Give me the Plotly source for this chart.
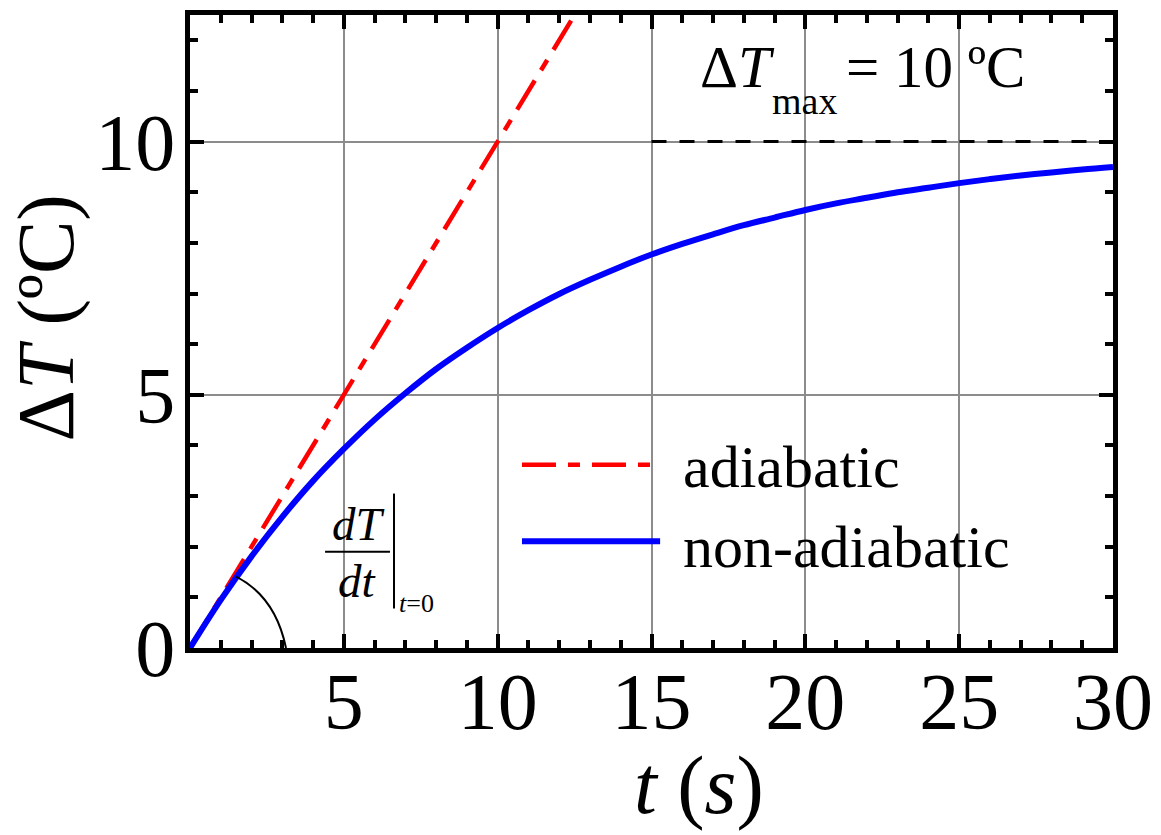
import plotly.graph_objects as go

# ---- data ----
t_adiabatic = [0, 12.5]
dT_adiabatic = [0, 12.5]

t_nonadiabatic = [0, 1, 2, 3, 4, 5, 6, 7, 8, 9, 10, 11, 12, 13, 14, 15, 16, 17, 18, 19, 20,
                  21, 22, 23, 24, 25, 26, 27, 28, 29, 30]
dT_nonadiabatic = [0, 0.95, 1.81, 2.59, 3.30, 3.93, 4.51, 5.03, 5.51, 5.93, 6.32, 6.67, 6.99,
                   7.27, 7.53, 7.77, 7.98, 8.17, 8.35, 8.50, 8.65, 8.78, 8.89, 9.00, 9.09,
                   9.18, 9.26, 9.33, 9.39, 9.45, 9.50]

dT_max = 10
dT_max_t = [15, 30]

x_ticks = [5, 10, 15, 20, 25, 30]
y_ticks = [0, 5, 10]

FONT = "Liberation Serif, Times New Roman, serif"
RED_DASH = "34px,12px,12px,12px"

fig = go.Figure()

fig.add_trace(go.Scatter(x=t_adiabatic, y=dT_adiabatic, mode="lines", name="adiabatic",
                         line=dict(color="#ff0000", width=4.5, dash=RED_DASH), showlegend=False))
fig.add_trace(go.Scatter(x=t_nonadiabatic, y=dT_nonadiabatic, mode="lines", name="non-adiabatic",
                         line=dict(color="#0000ff", width=6, shape="spline"), showlegend=False))
# dashed ΔTmax reference line
fig.add_trace(go.Scatter(x=dT_max_t, y=[dT_max, dT_max], mode="lines", showlegend=False,
                         line=dict(color="black", width=3, dash="15px,13px")))

axis_common = dict(
    showline=True, linecolor="black", linewidth=4.5, mirror="allticks",
    ticks="inside", ticklen=14, tickwidth=3.5, tickcolor="black",
    showgrid=True, gridcolor="#8c8c8c", gridwidth=2, zeroline=False,
    tickfont=dict(family=FONT, size=80, color="black"),
    minor=dict(ticks="inside", ticklen=8, tickwidth=3.5, tickcolor="black", dtick=1, showgrid=False),
)

fig.update_xaxes(range=[0, 30], tickmode="array", tickvals=x_ticks, ticktext=[str(v) for v in x_ticks],
                 ticklabelstandoff=-20, **axis_common)
fig.update_yaxes(range=[0, 12.5], tickmode="array", tickvals=y_ticks, ticktext=[str(v) for v in y_ticks],
                 ticklabelstandoff=-6, **axis_common)

shapes = []
# angle arc
shapes.append(dict(type="path", xref="x", yref="y", path="M 1.50,1.41 Q 2.78,1.01 3.12,0",
                   line=dict(color="black", width=2)))
# fraction bar
shapes.append(dict(type="line", xref="x", yref="y", x0=4.39, x1=6.50, y0=1.90, y1=1.90,
                   line=dict(color="black", width=2)))
# evaluation bar
shapes.append(dict(type="line", xref="x", yref="y", x0=6.63, x1=6.63, y0=0.78, y1=3.05,
                   line=dict(color="black", width=2)))
# legend samples
shapes.append(dict(type="line", xref="x", yref="y", x0=10.79, x1=15.28, y0=3.62, y1=3.62,
                   line=dict(color="#ff0000", width=4.5, dash=RED_DASH)))
shapes.append(dict(type="line", xref="x", yref="y", x0=10.79, x1=15.28, y0=2.11, y1=2.11,
                   line=dict(color="#0000ff", width=6)))

annotations = [
    dict(x=15.96, y=3.58, xref="x", yref="y", text="adiabatic", showarrow=False,
         xanchor="left", yanchor="middle", font=dict(family=FONT, size=60, color="black")),
    dict(x=15.96, y=1.99, xref="x", yref="y", text="non-adiabatic", showarrow=False,
         xanchor="left", yanchor="middle", font=dict(family=FONT, size=60, color="black")),
    dict(x=16.51, y=11.47, xref="x", yref="y", text="Δ<i>T</i>", showarrow=False,
         xanchor="left", yanchor="middle", font=dict(family=FONT, size=59, color="black")),
    dict(x=18.85, y=10.80, xref="x", yref="y", text="max", showarrow=False,
         xanchor="left", yanchor="middle", font=dict(family=FONT, size=38, color="black")),
    dict(x=21.25, y=11.47, xref="x", yref="y", text="= 10 ºC", showarrow=False,
         xanchor="left", yanchor="middle", font=dict(family=FONT, size=59, color="black")),
    dict(x=5.49, y=2.45, xref="x", yref="y", text="<i>dT</i>", showarrow=False,
         xanchor="center", yanchor="middle", font=dict(family=FONT, size=47, color="black")),
    dict(x=5.43, y=1.33, xref="x", yref="y", text="<i>dt</i>", showarrow=False,
         xanchor="center", yanchor="middle", font=dict(family=FONT, size=47, color="black")),
    dict(x=6.73, y=0.88, xref="x", yref="y", text="<i>t</i>=0", showarrow=False,
         xanchor="left", yanchor="middle", font=dict(family=FONT, size=26, color="black")),
    # axis titles
    dict(x=0.551, y=-0.2175, xref="paper", yref="paper", text="<i>t</i> (<i>s</i>)", showarrow=False,
         xanchor="center", yanchor="middle", font=dict(family=FONT, size=82, color="black")),
    dict(x=-0.155, y=0.522, xref="paper", yref="paper", text="Δ<i>T</i> (ºC)", showarrow=False,
         textangle=-90, xanchor="center", yanchor="middle", font=dict(family=FONT, size=80, color="black")),
]

fig.update_layout(
    width=1161, height=835,
    margin=dict(l=182, r=56, t=2, b=195),
    plot_bgcolor="white", paper_bgcolor="white",
    shapes=shapes, annotations=annotations, showlegend=False,
)

fig.write_html("out.html")
